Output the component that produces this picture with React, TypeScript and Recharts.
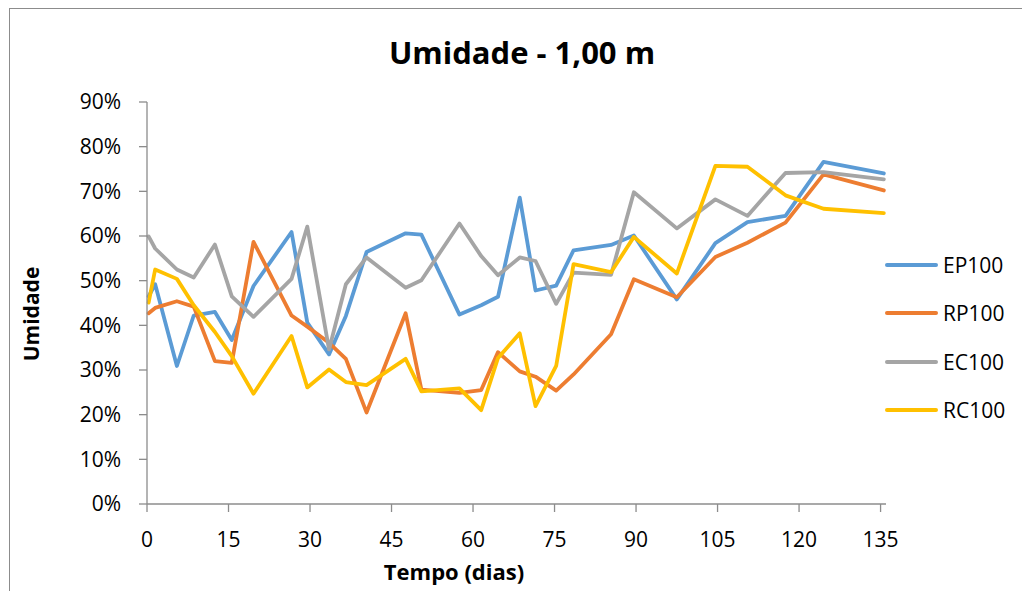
import React from 'react';
import { LineChart, Line, XAxis, YAxis, Legend } from 'recharts';

const days = [0.3, 1.5, 5.5, 8.6, 12.5, 15.6, 19.6, 26.6, 29.5, 33.5, 36.6, 40.4, 47.6, 50.5, 57.5, 61.5, 64.6, 68.6, 71.5, 75.3, 78.5, 85.4, 89.6, 97.5, 104.6, 110.5, 117.5, 124.5, 135.6];
const ep100 = [46.5, 49.2, 30.9, 42.2, 43.0, 36.7, 48.8, 60.9, 40.6, 33.5, 42.1, 56.4, 60.6, 60.3, 42.4, 44.5, 46.4, 68.6, 47.8, 48.9, 56.8, 58.0, 60.1, 45.8, 58.4, 63.1, 64.5, 76.6, 74.0];
const rp100 = [42.7, 43.9, 45.4, 44.2, 32.0, 31.6, 58.7, 42.2, 39.7, 36.1, 32.5, 20.5, 42.7, 25.6, 24.9, 25.5, 34.0, 29.7, 28.5, 25.4, 29.0, 38.0, 50.3, 46.3, 55.3, 58.5, 63.0, 73.8, 70.2];
const ec100 = [59.9, 57.2, 52.5, 50.7, 58.1, 46.5, 41.9, 50.4, 62.1, 34.6, 49.2, 55.2, 48.4, 50.1, 62.8, 55.5, 51.2, 55.2, 54.4, 44.8, 51.8, 51.3, 69.8, 61.7, 68.2, 64.5, 74.1, 74.3, 72.7];
const rc100 = [45.1, 52.5, 50.4, 44.5, 38.5, 33.1, 24.7, 37.6, 26.1, 30.1, 27.3, 26.6, 32.5, 25.2, 25.9, 21.0, 32.7, 38.2, 21.9, 30.9, 53.7, 51.9, 59.8, 51.6, 75.7, 75.5, 69.1, 66.1, 65.1];

const xTicks = [0, 15, 30, 45, 60, 75, 90, 105, 120, 135];
const yTicks = [0, 10, 20, 30, 40, 50, 60, 70, 80, 90];

const series = [
  { key: 'EP100', color: '#5B9BD5' },
  { key: 'RP100', color: '#ED7D31' },
  { key: 'EC100', color: '#A5A5A5' },
  { key: 'RC100', color: '#FFC000' },
];

const data = days.map((d, i) => ({
  day: d,
  EP100: ep100[i],
  RP100: rp100[i],
  EC100: ec100[i],
  RC100: rc100[i],
}));

const FONT = '"Open Sans", sans-serif';
const AXIS = '#8c8c8c';

const LegendBox = () => (
  <div style={{ fontFamily: FONT, fontSize: 21, color: '#000' }}>
    {series.map(s => (
      <div key={s.key} style={{ display: 'flex', alignItems: 'center', height: 48.3 }}>
        <div style={{ width: 53, height: 4, borderRadius: 2, background: s.color, marginRight: 5 }} />
        <span>{s.key}</span>
      </div>
    ))}
  </div>
);

export default function App() {
  return (
    <div style={{ position: 'relative', width: 1030, height: 600, overflow: 'hidden', fontFamily: FONT, margin: -8 }}>
      <div style={{ position: 'absolute', left: 9, top: 8, width: 1100, height: 700, border: '1px solid #8c8c8c' }} />
      <div style={{ position: 'absolute', left: 0, width: 1044, top: 37, textAlign: 'center', fontSize: 31, fontWeight: 700, lineHeight: 1 }}>
        Umidade - 1,00 m
      </div>
      <div style={{ position: 'absolute', left: 0, width: 908, top: 560, textAlign: 'center', fontSize: 22, fontWeight: 700, lineHeight: 1 }}>
        Tempo (dias)
      </div>
      <div style={{ position: 'absolute', left: 30.5, top: 314, transform: 'translate(-50%, -50%) rotate(-90deg)', fontSize: 21, fontWeight: 700, lineHeight: 1, whiteSpace: 'nowrap' }}>
        Umidade
      </div>
      <div style={{ position: 'absolute', left: 0, top: 0 }}>
        <LineChart width={1030} height={591} data={data} margin={{ top: 102, right: 144, bottom: 47, left: 0 }}>
          <XAxis
            dataKey="day"
            type="number"
            domain={[0, 136]}
            ticks={xTicks}
            interval={0}
            height={40}
            stroke={AXIS}
            strokeWidth={1.3}
            tickSize={8}
            tickMargin={20}
            tick={{ fill: '#000', fontSize: 21, fontFamily: FONT }}
          />
          <YAxis
            type="number"
            domain={[0, 90]}
            ticks={yTicks}
            interval={0}
            width={147}
            stroke={AXIS}
            strokeWidth={1.3}
            tickSize={8}
            tickMargin={18}
            tickFormatter={(v: number) => `${v}%`}
            tick={{ fill: '#000', fontSize: 21, fontFamily: FONT }}
          />
          <Legend
            layout="vertical"
            align="center"
            verticalAlign="middle"
            content={() => <LegendBox />}
            wrapperStyle={{ left: 885, top: 241, width: 140 }}
          />
          {series.map(s => (
            <Line
              key={s.key}
              type="linear"
              dataKey={s.key}
              stroke={s.color}
              strokeWidth={3.8}
              strokeLinejoin="round"
              strokeLinecap="round"
              dot={false}
              activeDot={false}
              isAnimationActive={false}
            />
          ))}
        </LineChart>
      </div>
    </div>
  );
}
